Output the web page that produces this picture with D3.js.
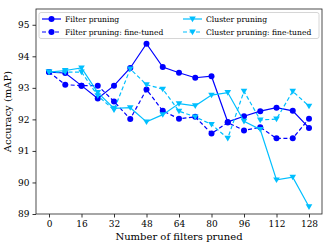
<!DOCTYPE html>
<html><head><meta charset="utf-8">
<script src="https://cdn.jsdelivr.net/npm/d3@7"></script>
<style>body{margin:0;background:#fff}svg{display:block}text{font-family:"DejaVu Serif",serif;fill:#000}</style>
</head><body><svg id="c" width="332" height="249"></svg>
<script>
const filtersPruned = [0,8,16,24,32,40,48,56,64,72,80,88,96,104,112,120,128];
const filterPruning = [93.50,93.47,93.07,92.66,93.07,93.63,94.40,93.66,93.48,93.32,93.37,91.92,92.10,92.26,92.37,92.27,91.73];
const filterFineTuned = [93.50,93.10,93.07,93.07,92.57,92.01,92.95,92.27,92.02,92.08,91.55,91.90,91.65,91.75,91.40,91.40,92.02];
const clusterPruning = [93.50,93.55,93.63,92.85,92.35,92.37,91.92,92.15,92.50,92.43,92.77,92.85,91.94,91.68,90.08,90.17,89.23];
const clusterFineTuned = [93.50,93.50,93.50,92.75,92.30,93.60,93.10,92.96,92.26,92.08,91.84,91.40,92.89,91.98,92.01,92.89,92.42];
const xTicks = [0,16,32,48,64,80,96,112,128];
const yTicks = [89,90,91,92,93,94,95];
const seriesNames = ["Filter pruning","Filter pruning: fine-tuned","Cluster pruning","Cluster pruning: fine-tuned"];

const series = [
  {name:seriesNames[0], values:filterPruning, color:"#0000ff", dash:null, marker:"circle"},
  {name:seriesNames[1], values:filterFineTuned, color:"#0000ff", dash:"4,2.5", marker:"circle"},
  {name:seriesNames[2], values:clusterPruning, color:"#00bfff", dash:null, marker:"tri"},
  {name:seriesNames[3], values:clusterFineTuned, color:"#00bfff", dash:"4,2.5", marker:"tri"}
];

const svg = d3.select("#c");
const L=36, R=322, T=9, B=214;
const x = d3.scaleLinear().domain([-6.4,134.4]).range([L,R]);
const y = d3.scaleLinear().domain([89,95.5]).range([B,T]);

const g = svg.append("g");
const line = d3.line().x((d,i)=>x(filtersPruned[i])).y(d=>y(d));
const triPath = s => `M${-s},${-s*0.75}L${s},${-s*0.75}L0,${s*0.95}Z`;

function drawMarker(sel, type, color){
  if(type==="circle") sel.append("circle").attr("r",3).attr("fill",color);
  else sel.append("path").attr("d",triPath(3.3)).attr("fill",color);
}

series.forEach(s=>{
  g.append("path").attr("d",line(s.values)).attr("fill","none")
   .attr("stroke",s.color).attr("stroke-width",1.2)
   .attr("stroke-dasharray",s.dash);
  s.values.forEach((v,i)=>{
    const m = g.append("g").attr("transform",`translate(${x(filtersPruned[i])},${y(v)})`);
    drawMarker(m,s.marker,s.color);
  });
});

// axes
const xa = svg.append("g").attr("transform",`translate(0,${B})`)
  .call(d3.axisBottom(x).tickValues(xTicks).tickFormat(d3.format("d")).tickSize(3.5).tickPadding(3));
const ya = svg.append("g").attr("transform",`translate(${L},0)`)
  .call(d3.axisLeft(y).tickValues(yTicks).tickFormat(d3.format("d")).tickSize(3.5).tickPadding(3));
[xa,ya].forEach(a=>{a.select(".domain").remove();a.selectAll("text").style("font-family","DejaVu Serif").style("font-size","9px");a.selectAll("line").attr("stroke","#000").attr("stroke-width",0.8);});

svg.append("rect").attr("x",L).attr("y",T).attr("width",R-L).attr("height",B-T)
  .attr("fill","none").attr("stroke","#222").attr("stroke-width",0.8);

svg.append("text").attr("x",(L+R)/2).attr("y",240).attr("text-anchor","middle")
  .style("font-size","10px").text("Number of filters pruned");
svg.append("text").attr("transform",`translate(11,${(T+B)/2}) rotate(-90)`).attr("text-anchor","middle")
  .style("font-size","10px").text("Accuracy (mAP)");

// legend
const lg = svg.append("g");
lg.append("rect").attr("x",39).attr("y",12.5).attr("width",280).attr("height",26)
  .attr("rx",2).attr("fill","#fff").attr("fill-opacity",0.8).attr("stroke","#ccc").attr("stroke-width",0.8);
const legPos = [[42,19],[42,32],[183,19],[183,32]];
series.forEach((s,i)=>{
  const [lx,ly]=legPos[i];
  const e = lg.append("g").attr("transform",`translate(${lx},${ly})`);
  e.append("line").attr("x1",0).attr("x2",19).attr("y1",0).attr("y2",0)
   .attr("stroke",s.color).attr("stroke-width",1.2).attr("stroke-dasharray",s.dash);
  const m = e.append("g").attr("transform","translate(9.5,0)");
  drawMarker(m,s.marker,s.color);
  e.append("text").attr("x",23).attr("y",3).style("font-size","7.6px").text(s.name);
});
</script></body></html>
